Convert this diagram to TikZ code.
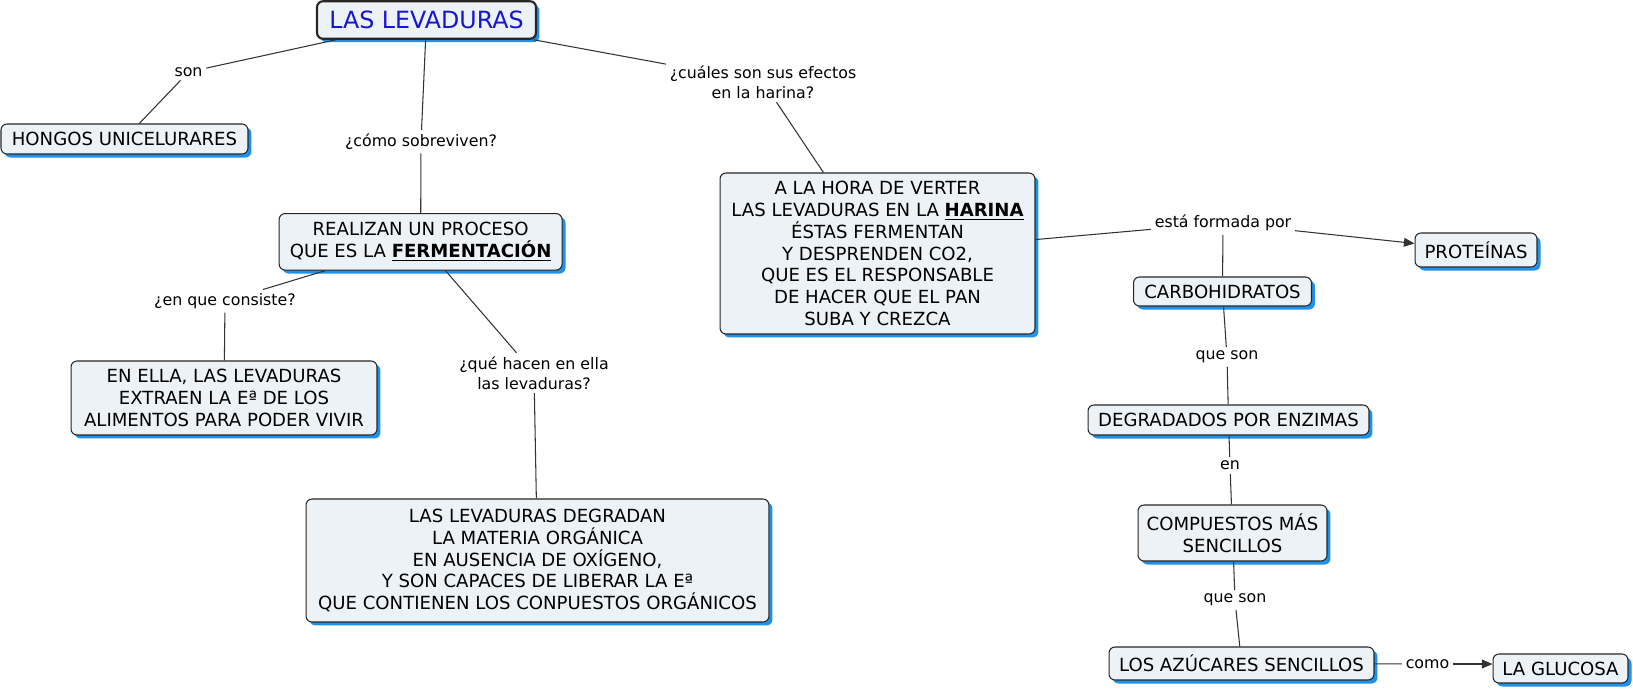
\documentclass[tikz,border=0pt]{standalone}
\usepackage{fontspec}
\setmainfont{DejaVu Sans}
\usetikzlibrary{arrows.meta,shadows}
\definecolor{cmapfill}{RGB}{236,242,246}
\definecolor{cmapshadow}{RGB}{30,145,235}
\definecolor{cmaptitle}{RGB}{22,22,210}
\tikzset{
  concepto/.style={draw=black!85, rounded corners=3.4pt, line width=0.6pt, fill=cmapfill,
              inner sep=2pt, align=center, font=\fontsize{10.3}{12.4}\selectfont,
              drop shadow={fill=cmapshadow, opacity=1, shadow xshift=0.07cm, shadow yshift=-0.07cm}},
  titulo/.style={line width=1.2pt, text=cmaptitle, font=\fontsize{13.5}{16}\selectfont},
  enlace/.style={align=center, inner sep=2pt, font=\fontsize{9}{11.2}\selectfont},
  conector/.style={draw=black!80, line width=0.6pt},
  flecha/.style={conector, -{Triangle[length=6pt,width=5pt]}},
}
\begin{document}
\begin{tikzpicture}[x=0.02cm,y=-0.02cm]
  \fill[white] (0,0) rectangle (1633,690);
  % conceptos
  \node[concepto,titulo,minimum width=4.38cm,minimum height=0.75cm] (levaduras) at (426.5,20) {LAS LEVADURAS};
  \node[concepto,minimum width=4.94cm,minimum height=0.6cm] (hongos) at (124.5,139) {HONGOS UNICELURARES};
  \node[concepto,minimum width=5.66cm,minimum height=1.13cm] (proceso) at (420.6,241.8) {REALIZAN UN PROCESO\\QUE ES LA \underline{\textbf{FERMENTACIÓN}}};
  \node[concepto,minimum width=6.12cm,minimum height=1.48cm] (extraen) at (224,398) {EN ELLA, LAS LEVADURAS\\EXTRAEN LA Eª DE LOS\\ALIMENTOS PARA PODER VIVIR};
  \node[concepto,minimum width=9.26cm,minimum height=2.46cm] (degradan) at (537.5,560.5) {LAS LEVADURAS DEGRADAN\\LA MATERIA ORGÁNICA\\EN AUSENCIA DE OXÍGENO,\\Y SON CAPACES DE LIBERAR LA Eª\\QUE CONTIENEN LOS CONPUESTOS ORGÁNICOS};
  \node[concepto,minimum width=6.3cm,minimum height=3.22cm] (harina) at (877.5,253.5) {A LA HORA DE VERTER\\LAS LEVADURAS EN LA \underline{\textbf{HARINA}}\\ÉSTAS FERMENTAN\\Y DESPRENDEN CO2,\\QUE ES EL RESPONSABLE\\DE HACER QUE EL PAN\\SUBA Y CREZCA};
  \node[concepto,minimum width=2.44cm,minimum height=0.68cm] (proteinas) at (1476,250) {PROTEÍNAS};
  \node[concepto,minimum width=3.56cm,minimum height=0.58cm] (carbohidratos) at (1222.5,291.5) {CARBOHIDRATOS};
  \node[concepto,minimum width=5.62cm,minimum height=0.6cm] (enzimas) at (1228.5,420) {DEGRADADOS POR ENZIMAS};
  \node[concepto,minimum width=3.78cm,minimum height=1.12cm] (compuestos) at (1232.5,533) {COMPUESTOS MÁS\\SENCILLOS};
  \node[concepto,minimum width=5.3cm,minimum height=0.66cm] (azucares) at (1241.5,663.5) {LOS AZÚCARES SENCILLOS};
  \node[concepto,minimum width=2.7cm,minimum height=0.58cm] (glucosa) at (1560.5,668.5) {LA GLUCOSA};
  % frases de enlace
  \node[enlace] (son) at (188.5,72) {son};
  \node[enlace] (sobreviven) at (421,141.6) {¿cómo sobreviven?};
  \node[enlace] (efectos) at (763,82) {¿cuáles son sus efectos\\en la harina?};
  \node[enlace] (consiste) at (225,301) {¿en que consiste?};
  \node[enlace] (hacen) at (534,373) {¿qué hacen en ella\\las levaduras?};
  \node[enlace] (formada) at (1223,223) {está formada por};
  \node[enlace] (queson1) at (1227,357) {que son};
  \node[enlace] (en) at (1230,465.5) {en};
  \node[enlace] (queson2) at (1235,600) {que son};
  \node[enlace] (como) at (1427.5,664) {como};
  % conectores
  \draw[conector] (levaduras) -- (son);
  \draw[conector] (son) -- (hongos);
  \draw[conector] (levaduras) -- (sobreviven);
  \draw[conector] (sobreviven) -- (proceso);
  \draw[conector] (levaduras) -- (efectos);
  \draw[conector] (efectos) -- (harina);
  \draw[conector] (proceso) -- (consiste);
  \draw[conector] (consiste) -- (extraen);
  \draw[conector] (proceso) -- (hacen);
  \draw[conector] (hacen) -- (degradan);
  \draw[conector] (harina) -- (formada);
  \draw[flecha] (formada) -- (proteinas);
  \draw[conector] (formada) -- (carbohidratos);
  \draw[conector] (carbohidratos) -- (queson1);
  \draw[conector] (queson1) -- (enzimas);
  \draw[conector] (enzimas) -- (en);
  \draw[conector] (en) -- (compuestos);
  \draw[conector] (compuestos) -- (queson2);
  \draw[conector] (queson2) -- (azucares);
  \draw[conector] (azucares) -- (como);
  \draw[flecha] (como) -- (como -| glucosa.west);
\end{tikzpicture}
\end{document}
